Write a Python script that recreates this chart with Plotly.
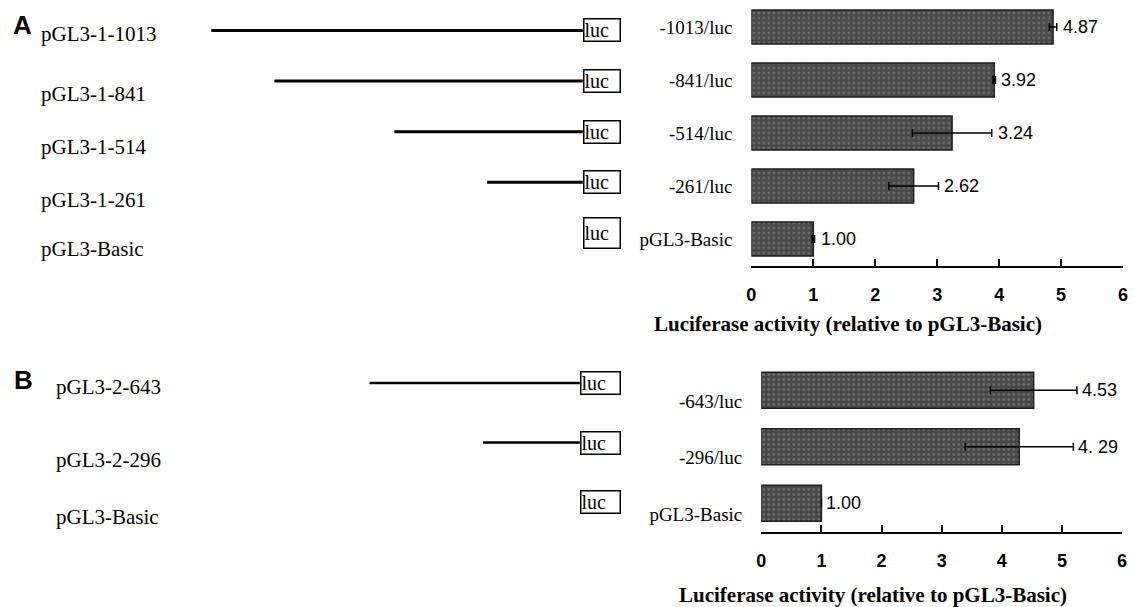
import plotly.graph_objects as go

# ---------------- data ----------------
a_constructs = ["pGL3-1-1013", "pGL3-1-841", "pGL3-1-514", "pGL3-1-261", "pGL3-Basic"]
a_bar_labels = ["-1013/luc", "-841/luc", "-514/luc", "-261/luc", "pGL3-Basic"]
a_promoter_bp = [1013, 841, 514, 261, 0]
a_activity = [4.87, 3.92, 3.24, 2.62, 1.00]
a_error = [0.06, 0.02, 0.64, 0.40, 0.02]
a_value_text = ["4.87", "3.92", "3.24", "2.62", "1.00"]

b_constructs = ["pGL3-2-643", "pGL3-2-296", "pGL3-Basic"]
b_bar_labels = ["-643/luc", "-296/luc", "pGL3-Basic"]
b_promoter_bp = [643, 296, 0]
b_activity = [4.53, 4.29, 1.00]
b_error = [0.72, 0.90, 0.0]
b_value_text = ["4.53", "4. 29", "1.00"]

x_ticks = [0, 1, 2, 3, 4, 5, 6]
x_title = "Luciferase activity (relative to pGL3-Basic)"
panel_letters = ["A", "B"]
box_text = "luc"

# ---------------- layout helpers ----------------
W, H = 1134, 607


def px(x):
    return x / W


def py(y):
    return 1 - y / H


SERIF = "Liberation Serif"
bar_marker = dict(
    color="#4a4a4a",
    line=dict(color="#1e1e1e", width=1.5),
    pattern=dict(shape=".", bgcolor="#474747", fgcolor="#969696", size=5, solidity=0.25),
)

fig = go.Figure()

# ---- Panel A bars ----
a_idx = list(range(len(a_activity)))
fig.add_trace(go.Bar(
    x=a_activity, y=a_idx, orientation="h", width=0.64,
    xaxis="x", yaxis="y", marker=bar_marker,
    error_x=dict(type="data", array=a_error, color="black", thickness=1.5, width=4),
    hoverinfo="skip",
))

# ---- Panel B bars ----
b_idx = list(range(len(b_activity)))
fig.add_trace(go.Bar(
    x=b_activity, y=b_idx, orientation="h", width=0.64,
    xaxis="x2", yaxis="y2", marker=bar_marker,
    error_x=dict(type="data", array=b_error, color="black", thickness=1.5, width=4),
    hoverinfo="skip",
))

# ---- schematics (promoter lines) ----
for i, bp in enumerate(a_promoter_bp):
    if bp > 0:
        fig.add_trace(go.Scatter(x=[-bp, 0], y=[i, i], mode="lines",
                                 line=dict(color="black", width=3),
                                 xaxis="x3", yaxis="y3", hoverinfo="skip"))
for i, bp in enumerate(b_promoter_bp):
    if bp > 0:
        fig.add_trace(go.Scatter(x=[-bp, 0], y=[i, i], mode="lines",
                                 line=dict(color="black", width=2.6),
                                 xaxis="x4", yaxis="y4", hoverinfo="skip"))

annotations = []
# value labels right of the error bars
for v, e, t, i in zip(a_activity, a_error, a_value_text, a_idx):
    annotations.append(dict(x=v + e, y=i, xref="x", yref="y", xanchor="left",
                            yanchor="middle", xshift=4, text=t, showarrow=False,
                            font=dict(family="Liberation Sans", size=18, color="black")))
for v, e, t, i in zip(b_activity, b_error, b_value_text, b_idx):
    annotations.append(dict(x=v + e, y=i, xref="x2", yref="y2", xanchor="left",
                            yanchor="middle", xshift=3, text=t, showarrow=False,
                            font=dict(family="Liberation Sans", size=18, color="black")))

# luc boxes
for i in a_idx:
    annotations.append(dict(
        x=0, y=i, xref="x3", yref="y3", xanchor="left", yanchor="middle",
        text=box_text, showarrow=False, bgcolor="white",
        bordercolor="black", borderwidth=1.5, borderpad=0,
        width=35, height=21 if i < len(a_idx) - 1 else 29, align="left",
        font=dict(family=SERIF, size=20, color="black"),
    ))
for i in b_idx:
    annotations.append(dict(
        x=0, y=i, xref="x4", yref="y4", xanchor="left", yanchor="middle",
        text=box_text, showarrow=False, bgcolor="white",
        bordercolor="black", borderwidth=1.5, borderpad=0,
        width=38, height=21, align="left",
        font=dict(family=SERIF, size=20, color="black"),
    ))

# construct names on the left
a_name_y = [34, 94, 147, 200, 249]
for name, yy in zip(a_constructs, a_name_y):
    annotations.append(dict(x=px(34), y=py(yy), xref="paper", yref="paper",
                            xanchor="left", yanchor="middle", text=name, showarrow=False,
                            font=dict(family=SERIF, size=21, color="black")))
b_name_y = [387, 460, 517]
for name, yy in zip(b_constructs, b_name_y):
    annotations.append(dict(x=px(49), y=py(yy), xref="paper", yref="paper",
                            xanchor="left", yanchor="middle", text=name, showarrow=False,
                            font=dict(family=SERIF, size=21, color="black")))

# panel letters
for letter, (lx, ly) in zip(panel_letters, [(6, 25), (7, 380)]):
    annotations.append(dict(x=px(lx), y=py(ly), xref="paper", yref="paper",
                            xanchor="left", yanchor="middle", text=f"<b>{letter}</b>",
                            showarrow=False,
                            font=dict(family="Liberation Sans", size=26, color="black")))

# axis titles
for (tx, ty) in [(851, 324), (876, 595)]:
    annotations.append(dict(x=px(tx), y=py(ty), xref="paper", yref="paper",
                            xanchor="center", yanchor="middle", text=f"<b>{x_title}</b>",
                            showarrow=False,
                            font=dict(family=SERIF, size=21, color="black")))

xaxis_common = dict(
    range=[0, 6], tickvals=x_ticks, showline=True, linecolor="black", linewidth=1.5,
    ticks="inside", ticklen=7, tickwidth=1.5, tickcolor="black", showgrid=False,
    zeroline=False, tickfont=dict(family="Liberation Sans", size=18, color="black",
                                  weight="bold"),
    ticklabelstandoff=12, fixedrange=True,
)
yaxis_common = dict(showline=False, ticks="", showgrid=False, zeroline=False,
                    tickfont=dict(family=SERIF, size=19, color="black"),
                    ticklabelstandoff=18, fixedrange=True)

a_px_per_bp = 0.37
b_px_per_bp = 0.33
a_box_left = 583
b_box_left = 580

fig.update_layout(
    width=W, height=H, margin=dict(l=0, r=0, t=0, b=0),
    paper_bgcolor="white", plot_bgcolor="white", showlegend=False,
    xaxis=dict(domain=[px(753), px(1128)], anchor="y", **xaxis_common),
    yaxis=dict(domain=[py(265.5), py(0.5)], anchor="x", range=[4.5, -0.5],
               tickvals=a_idx, ticktext=a_bar_labels, **yaxis_common),
    xaxis2=dict(domain=[px(763), px(1127)], anchor="y2", **xaxis_common),
    yaxis2=dict(domain=[py(531.5), py(362)], anchor="x2", range=[2.5, -0.5],
                tickvals=b_idx, ticktext=b_bar_labels, ticklabelshift=-11, **yaxis_common),
    xaxis3=dict(domain=[0, px(a_box_left)], range=[-a_box_left / a_px_per_bp, 0],
                visible=False, anchor="y3", fixedrange=True),
    yaxis3=dict(domain=[py(258.2), py(5.2)], range=[4.5, -0.5], visible=False,
                anchor="x3", fixedrange=True),
    xaxis4=dict(domain=[0, px(b_box_left)], range=[-b_box_left / b_px_per_bp, 0],
                visible=False, anchor="y4", fixedrange=True),
    yaxis4=dict(domain=[py(531.75), py(353.25)], range=[2.5, -0.5], visible=False,
                anchor="x4", fixedrange=True),
    annotations=annotations,
)

fig.write_html("out.html", config={"displayModeBar": False},
               post_script="document.body.style.margin='0';document.body.style.overflow='hidden';")
